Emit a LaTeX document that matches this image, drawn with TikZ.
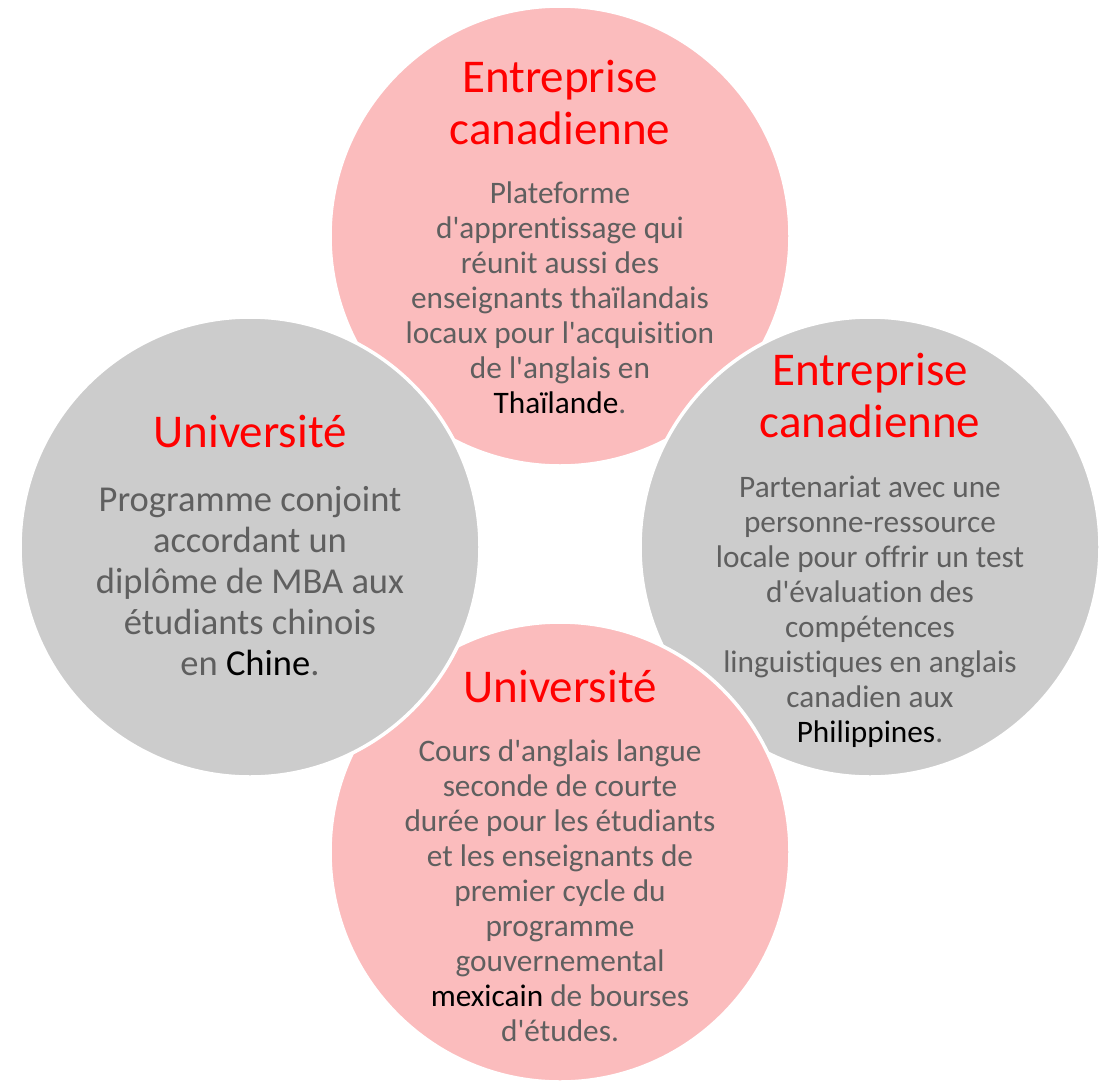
\documentclass[tikz,border=0pt]{standalone}
\usepackage{fontspec}
\newfontfamily\calfont{Carlito}[Ligatures={TeXOff,NoCommon}]
\definecolor{pinkfill}{RGB}{251,188,189}
\definecolor{grayfill}{RGB}{204,204,204}
\definecolor{bodygray}{RGB}{95,95,95}
\definecolor{titlered}{RGB}{255,0,0}
\tikzset{
  disc/.style={circle, draw=white, line width=3.5pt, minimum size=460pt, inner sep=0pt},
  pinkdisc/.style={disc, fill=pinkfill},
  graydisc/.style={disc, fill=grayfill},
  ttl/.style={anchor=base, inner sep=0pt, text=titlered, font=\calfont\fontsize{47}{52}\selectfont},
  bodytxt/.style={anchor=base, inner sep=0pt, text=bodygray, font=\calfont\fontsize{31.3}{35}\selectfont},
  bigbody/.style={anchor=base, inner sep=0pt, text=bodygray, font=\calfont\fontsize{36.5}{41}\selectfont},
}
\begin{document}
\begin{tikzpicture}[x=1pt,y=1pt]
\useasboundingbox (0,0) rectangle (1102,-1082);
% top circle
\node[pinkdisc] (ctop) at (560,-236) {};
\node[ttl] (ttop1) at (560,-92) {Entreprise};
\node[ttl] (ttop2) at (560,-144) {canadienne};
\foreach \t [count=\i from 0] in {Plateforme, {d'apprentissage qui}, {réunit aussi des}, {enseignants thaïlandais}, {locaux pour l'acquisition}, {de l'anglais en}, {\textcolor{black}{Thaïlande}.}}
  \node[bodytxt] (btop\i) at (560,-203-35*\i) {\t};
% right circle
\node[graydisc] (cright) at (870,-547) {};
\node[ttl] (tright1) at (870,-385) {Entreprise};
\node[ttl] (tright2) at (870,-437) {canadienne};
\foreach \t [count=\i from 0] in {{Partenariat avec une}, {personne-ressource}, {locale pour offrir un test}, {d'évaluation des}, {compétences}, {linguistiques en anglais}, {canadien aux}, {\textcolor{black}{Philippines}.}}
  \node[bodytxt] (bright\i) at (870,-497-35*\i) {\t};
% bottom circle
\node[pinkdisc] (cbottom) at (560,-852) {};
\node[ttl] (tbottom) at (560,-702) {Université};
\foreach \t [count=\i from 0] in {{Cours d'anglais langue}, {seconde de courte}, {durée pour les étudiants}, {et les enseignants de}, {premier cycle du}, {programme}, {gouvernemental}, {\textcolor{black}{mexicain} de bourses}, {d'études.}}
  \node[bodytxt] (bbottom\i) at (560,-761-35*\i) {\t};
% left circle
\node[graydisc] (cleft) at (250,-547) {};
\node[ttl] (tleft) at (250,-447) {Université};
\foreach \t [count=\i from 0] in {{Programme conjoint}, {accordant un}, {diplôme de MBA aux}, {étudiants chinois}, {en \textcolor{black}{Chine}.}}
  \node[bigbody] (bleft\i) at (250,-511-41*\i) {\t};
\end{tikzpicture}
\end{document}
